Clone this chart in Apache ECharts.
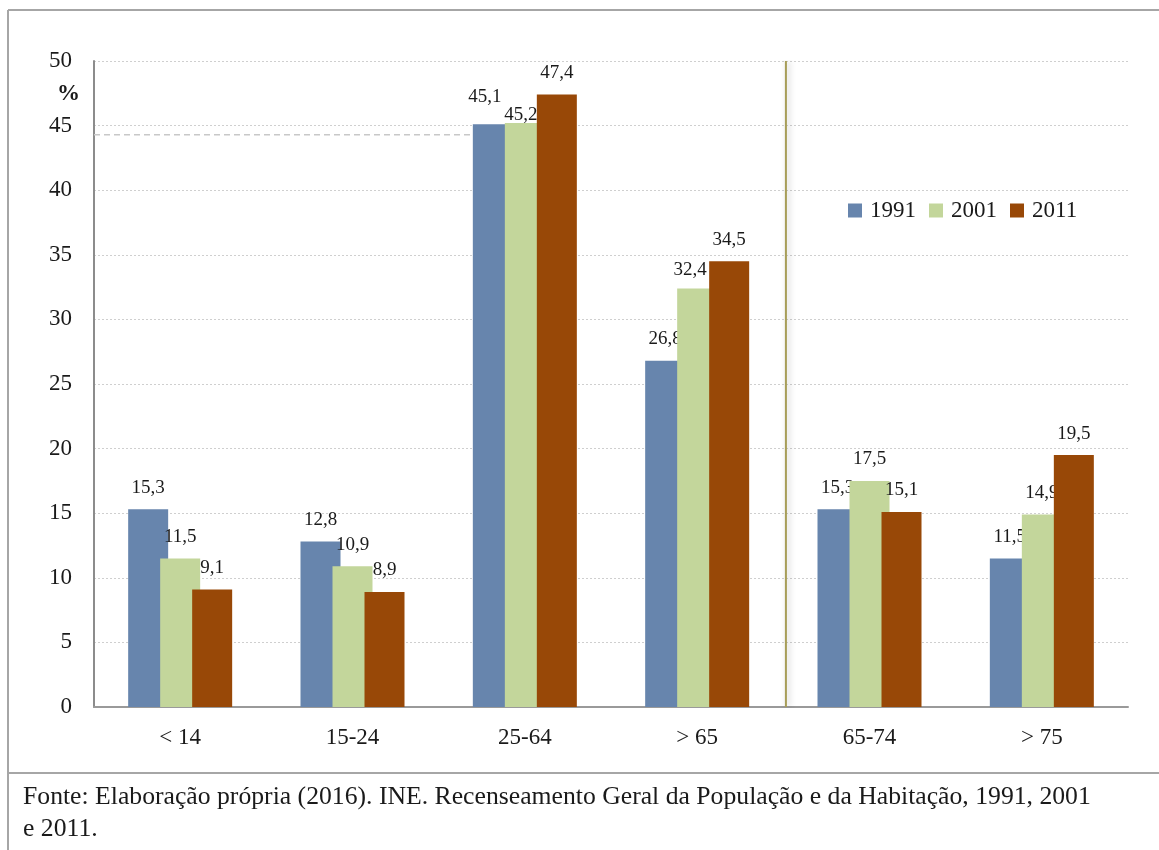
<!DOCTYPE html>
<html>
<head>
<meta charset="utf-8">
<title>População por grupos etários</title>
<script src="https://cdn.jsdelivr.net/npm/echarts@6/dist/echarts.min.js"></script>
<style>
  html, body { margin: 0; padding: 0; background: #fff; }
  #chart { width: 1159px; height: 850px; }
</style>
</head>
<body>
<div id="chart"></div>
<script>
// Age groups and share of population (%) per census year
const categories = ['< 14', '15-24', '25-64', '> 65', '65-74', '> 75'];
const years = ['1991', '2001', '2011'];
const values1991 = [15.3, 12.8, 45.1, 26.8, 15.3, 11.5];
const values2001 = [11.5, 10.9, 45.2, 32.4, 17.5, 14.9];
const values2011 = [9.1, 8.9, 47.4, 34.5, 15.1, 19.5];
const yTicks = [0, 5, 10, 15, 20, 25, 30, 35, 40, 45, 50];
const referenceLevel = 44.3;   // dashed reference line
const dividerAt = 4;           // separates the "> 65" subgroups
const colors = ['#6785ad', '#c3d69b', '#984807'];
const serif = '"Liberation Serif", "DejaVu Serif", serif';

const fmt = v => String(v).replace('.', ',');

// per-label nudges where labels crowd each other
const labelNudge = {
  '0-2': [-8, -6],
  '1-2': [-4, 13],
  '1-3': [-7, 3]
};

function buildData(values, s) {
  return values.map((v, i) => {
    const n = labelNudge[s + '-' + i];
    const item = { value: v };
    if (n) item.label = { offset: n };
    return item;
  });
}

const chart = echarts.init(document.getElementById('chart'), null, { renderer: 'canvas' });

const seriesValues = [values1991, values2001, values2011];
const barSeries = seriesValues.map((vals, s) => ({
  name: years[s],
  type: 'bar',
  xAxisIndex: 0,
  yAxisIndex: 0,
  data: buildData(vals, s),
  barWidth: 40,
  barGap: '-20%',
  itemStyle: { color: colors[s] },
  label: {
    show: true,
    position: 'top',
    distance: 12,
    formatter: p => fmt(p.value),
    fontFamily: serif,
    fontSize: 19,
    color: '#1a1a1a'
  },
  z: 2 + s
}));

const option = {
  animation: false,
  backgroundColor: '#fff',
  textStyle: { fontFamily: serif },
  grid: { left: 94, right: 31, top: 61, bottom: 143, containLabel: false },
  legend: {
    data: years,
    left: 843,
    top: 194,
    itemWidth: 14,
    itemHeight: 14,
    itemGap: 13,
    icon: 'rect',
    textStyle: { fontFamily: serif, fontSize: 23, color: '#1a1a1a', padding: [0, 0, 0, 3] }
  },
  xAxis: [
    {
      type: 'category',
      data: categories,
      axisLine: { lineStyle: { color: '#9a9a9a', width: 2 } },
      axisTick: { show: false },
      axisLabel: { fontFamily: serif, fontSize: 23, color: '#1a1a1a', margin: 19 }
    },
    {
      // helper axis in category units for the annotation lines
      type: 'value',
      min: 0,
      max: categories.length,
      show: false
    }
  ],
  yAxis: {
    type: 'value',
    min: yTicks[0],
    max: yTicks[yTicks.length - 1],
    interval: yTicks[1] - yTicks[0],
    axisLine: { show: true, lineStyle: { color: '#8c8c8c', width: 2 } },
    axisTick: { show: false },
    axisLabel: { fontFamily: serif, fontSize: 23, color: '#1a1a1a', margin: 22 },
    splitLine: { lineStyle: { color: '#cfcfcf', type: [2, 2], width: 1 } }
  },
  series: [
    {
      name: 'reference',
      type: 'line',
      xAxisIndex: 1,
      yAxisIndex: 0,
      data: [[0, referenceLevel], [2.25, referenceLevel]],
      symbol: 'none',
      silent: true,
      lineStyle: { color: '#c8c8c8', type: [6, 4], width: 1.5 },
      z: 1
    },
    {
      name: 'divider',
      type: 'line',
      xAxisIndex: 1,
      yAxisIndex: 0,
      data: [[dividerAt + 0.015, yTicks[0]], [dividerAt + 0.015, yTicks[yTicks.length - 1]]],
      symbol: 'none',
      silent: true,
      lineStyle: {
        color: '#a79d58', width: 2,
        shadowColor: 'rgba(0,0,0,0.25)', shadowBlur: 6, shadowOffsetX: 2
      },
      z: 5
    },
    ...barSeries
  ],
  graphic: [
    // outer frame and separator above the source note
    { type: 'line', shape: { x1: 8, y1: 10, x2: 1159, y2: 10 }, style: { stroke: '#a6a6a6', lineWidth: 2 } },
    { type: 'line', shape: { x1: 8, y1: 10, x2: 8, y2: 850 }, style: { stroke: '#a6a6a6', lineWidth: 2 } },
    { type: 'line', shape: { x1: 8, y1: 773, x2: 1159, y2: 773 }, style: { stroke: '#a6a6a6', lineWidth: 2 } },
    {
      type: 'text', left: 57, top: 83,
      style: { text: '%', fontFamily: serif, fontSize: 23, fontWeight: 'bold', fill: '#1a1a1a' }
    },
    {
      type: 'text', left: 23, top: 781,
      style: {
        text: 'Fonte: Elaboração própria (2016). INE. Recenseamento Geral da População e da Habitação, 1991, 2001\ne 2011.',
        fontFamily: serif, fontSize: 25.7, lineHeight: 32, fill: '#1a1a1a'
      }
    }
  ]
};

chart.setOption(option);
</script>
</body>
</html>
